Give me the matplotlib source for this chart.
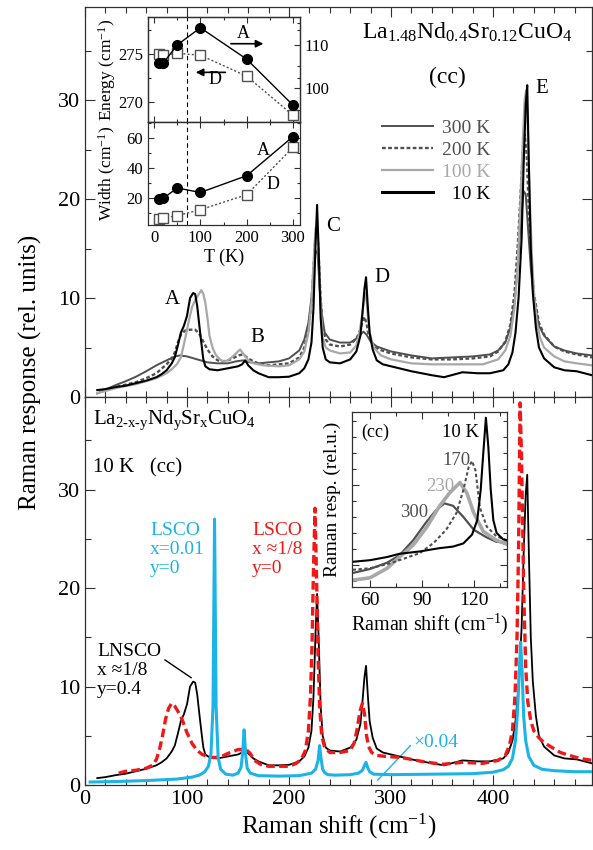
import matplotlib
matplotlib.use("Agg")
import matplotlib.pyplot as plt
from matplotlib.ticker import MultipleLocator
from matplotlib.lines import Line2D

plt.rcParams['font.family'] = ['Liberation Serif', 'DejaVu Serif']
plt.rcParams['mathtext.fontset'] = 'custom'
plt.rcParams['mathtext.rm'] = 'Liberation Serif'
plt.rcParams['mathtext.it'] = 'Liberation Serif:italic'
plt.rcParams['mathtext.bf'] = 'Liberation Serif:bold'

# ---- main spectra (Raman shift in cm-1, response in rel. units) ----
x_10K = [12, 20, 30, 40, 50, 60, 70, 75, 80, 85, 88, 91, 94, 97, 100, 103, 106, 108, 110, 112,
         114, 116, 118, 122, 130, 140, 150, 154, 157, 160, 165, 170, 180, 190, 200, 210, 215, 219,
         222, 224, 226, 227.5, 229, 231, 233, 236, 240, 250, 260, 266, 270, 272, 274, 275.5, 277,
         279, 282, 286, 292, 300, 320, 340, 352, 370, 385, 397, 410, 415, 419, 422, 425, 428, 430,
         432, 433.5, 435, 437, 439, 442, 445, 450, 460, 470, 482, 497]
y_10K = [0.7, 0.8, 1.0, 1.15, 1.4, 1.65, 2.0, 2.3, 2.7, 3.4, 4.0, 5.2, 6.5, 7.2, 8.2, 10.0, 10.5, 10.4,
         9.2, 7.3, 5.5, 3.8, 3.1, 2.8, 2.7, 2.9, 3.1, 3.3, 3.7, 3.2, 2.7, 2.4, 2.0, 2.0, 2.05, 2.4, 2.9,
         3.8, 5.5, 9.0, 15.5, 19.4, 15.0, 8.0, 5.0, 3.8, 3.5, 3.4, 3.8, 4.6, 6.2, 8.5, 11.0, 12.1, 9.5,
         6.5, 4.8, 3.7, 3.3, 3.1, 2.6, 2.2, 2.0, 2.5, 2.4, 2.4, 2.7, 3.3, 4.5, 6.5, 10.0, 16.0, 23.5,
         29.5, 31.5, 24.0, 15.0, 10.5, 7.0, 5.0, 3.9, 3.0, 2.7, 2.6, 2.2]

x_300K = [12, 20, 30, 40, 50, 60, 70, 80, 88, 93, 100, 110, 120, 130, 140, 148, 155, 162, 170, 180,
          190, 200, 210, 215, 219, 222, 224, 226, 228, 230, 232, 235, 240, 250, 260, 266, 270, 273,
          276, 280, 286, 300, 320, 340, 360, 380, 397, 405, 412, 417, 421, 424, 427, 430, 432, 434,
          437, 440, 445, 450, 460, 470, 482, 497]
y_300K = [0.35, 0.75, 1.2, 1.6, 2.05, 2.6, 3.2, 3.7, 4.1, 4.2, 4.1, 3.8, 3.5, 3.4, 3.4, 3.6, 3.7, 3.5,
          3.4, 3.5, 3.6, 3.9, 4.7, 5.8, 7.5, 10.0, 12.5, 14.8, 14.5, 11.0, 8.5, 6.5, 5.8, 5.5, 5.5,
          5.9, 6.3, 6.6, 6.3, 5.6, 5.1, 4.6, 4.2, 3.9, 4.0, 4.1, 4.3, 4.7, 5.5, 7.0, 9.5, 13.0, 17.5,
          20.8, 20.5, 17.5, 13.0, 9.8, 7.2, 6.2, 5.1, 4.7, 4.4, 4.2]

x_200K = [14, 20, 30, 40, 50, 60, 70, 80, 85, 88, 91, 94, 98, 103, 108, 112, 116, 120, 125, 130,
          135, 140, 145, 150, 155, 160, 165, 170, 180, 190, 200, 210, 215, 219, 222, 224, 226, 227.5,
          229, 231, 233, 236, 240, 250, 260, 266, 270, 272, 274, 276, 278, 282, 288, 300, 320, 340,
          360, 380, 397, 405, 412, 417, 421, 424, 427, 429, 431, 433, 435, 437, 440, 445, 450, 460,
          470, 482, 497]
y_200K = [0.5, 0.7, 1.0, 1.25, 1.5, 1.9, 2.4, 3.3, 3.9, 4.5, 5.5, 6.3, 6.7, 6.8, 6.8, 6.4, 5.6, 4.8,
          4.1, 3.7, 3.6, 3.7, 3.9, 4.2, 4.3, 3.9, 3.6, 3.4, 3.2, 3.3, 3.4, 4.0, 5.0, 6.8, 9.5, 13.0,
          16.5, 17.0, 14.5, 10.0, 7.0, 5.8, 5.3, 5.1, 5.3, 5.9, 6.8, 7.6, 8.1, 7.4, 6.3, 5.3, 4.8,
          4.4, 4.0, 3.8, 3.8, 3.9, 4.1, 4.6, 5.6, 7.3, 10.5, 15.0, 20.5, 24.5, 26.5, 24.5, 19.0,
          14.5, 10.5, 7.5, 6.3, 5.1, 4.6, 4.3, 4.0]

x_100K = [12, 20, 30, 40, 50, 60, 70, 80, 85, 90, 94, 98, 102, 105, 108, 111, 114, 116, 118, 120,
          122, 125, 128, 132, 136, 140, 145, 149, 152, 155, 160, 165, 175, 190, 200, 210, 215, 219,
          222, 224, 226, 227.5, 229, 231, 233, 236, 240, 250, 260, 266, 269, 272, 274, 275.5, 277,
          279, 283, 290, 300, 320, 340, 360, 390, 405, 412, 417, 421, 424, 427, 429, 431, 432.5, 434,
          436, 438, 440, 443, 446, 450, 460, 470, 482, 497]
y_100K = [0.4, 0.6, 0.9, 1.1, 1.3, 1.6, 1.9, 2.4, 2.8, 3.3, 4.0, 5.8, 7.8, 9.1, 9.8, 10.3, 10.8, 10.4,
          9.5, 8.0, 6.2, 5.0, 4.3, 3.8, 3.6, 3.7, 4.1, 4.5, 4.8, 4.4, 3.7, 3.4, 3.2, 3.1, 3.2, 3.8,
          4.6, 6.5, 9.5, 13.5, 17.0, 17.5, 14.5, 9.0, 6.0, 5.0, 4.7, 4.4, 4.5, 5.2, 6.5, 8.5, 10.2,
          10.5, 8.5, 6.5, 5.0, 4.2, 3.8, 3.4, 3.3, 3.3, 3.3, 3.8, 4.7, 6.2, 9.0, 13.0, 20.0, 25.5,
          30.0, 31.0, 27.0, 20.0, 14.5, 10.5, 7.5, 6.0, 5.0, 4.1, 3.6, 3.4, 3.2]

# LSCO x~1/8, y=0 (10 K)
x_lsco8 = [33, 40, 50, 60, 66, 70, 73, 76, 79, 82, 85, 88, 91, 95, 100, 105, 110, 115, 120, 125, 132,
           140, 150, 158, 162, 166, 172, 180, 190, 200, 207, 212, 216, 219, 221, 222.5, 224, 225.5,
           227, 228.5, 230, 232, 235, 240, 250, 260, 264, 267, 269.5, 272, 274, 276, 278, 281, 286,
           295, 310, 330, 350, 370, 390, 405, 412, 416, 419, 421.5, 423.5, 425, 426.5, 428, 430,
           432, 434, 437, 440, 445, 450, 458, 466, 475, 485, 497]
y_lsco8 = [1.2, 1.4, 1.5, 1.7, 2.0, 2.6, 3.6, 5.0, 6.7, 7.8, 8.3, 8.0, 7.5, 6.7, 5.3, 4.2, 3.5, 3.1,
           2.9, 2.8, 2.8, 3.2, 3.6, 3.6, 3.2, 2.5, 2.1, 1.9, 1.9, 1.9, 2.2, 2.6, 3.5, 5.5, 9.0, 14.0,
           22.0, 28.1, 21.0, 13.0, 8.0, 5.0, 3.8, 3.3, 3.3, 3.5, 4.3, 5.8, 7.5, 8.3, 7.2, 5.0, 3.9,
           3.3, 3.0, 2.9, 2.8, 2.4, 2.1, 2.3, 2.2, 2.5, 3.0, 4.0, 5.5, 9.0, 15.0, 24.0, 38.8, 33.0,
           20.0, 12.0, 8.5, 6.5, 5.5, 4.8, 4.3, 3.8, 3.3, 3.0, 2.7, 2.5]

# LSCO x=0.01, y=0 (scaled x0.04)
x_lsco01 = [5, 30, 60, 90, 105, 112, 117, 121, 123.5, 125.5, 127, 128.5, 130.5, 133, 138, 145, 150,
            153, 154.5, 156, 157.5, 159, 162, 170, 190, 210, 222, 226, 228.5, 230, 231.5, 233, 235,
            238, 245, 260, 268, 272, 274, 275.5, 277, 279, 283, 300, 340, 380, 400, 410, 415, 419,
            422, 424, 425.5, 427, 428.5, 430, 432, 435, 440, 448, 460, 480, 497]
y_lsco01 = [0.3, 0.35, 0.45, 0.6, 0.8, 1.0, 1.3, 1.9, 3.2, 8.0, 27.0, 8.0, 2.8, 1.6, 1.1, 1.0, 1.2,
            1.8, 3.2, 5.6, 3.0, 1.7, 1.2, 0.95, 0.9, 0.95, 1.2, 1.6, 2.5, 4.0, 2.6, 1.6, 1.25, 1.05,
            1.0, 1.05, 1.2, 1.5, 2.0, 2.3, 1.8, 1.35, 1.1, 1.05, 1.1, 1.15, 1.3, 1.55, 1.9, 2.7, 4.5,
            7.5, 11.0, 14.5, 11.5, 7.0, 4.5, 2.9, 2.0, 1.6, 1.45, 1.35, 1.35]

# ---- inset (top): phonon A and D vs temperature ----
T = [10, 20, 50, 100, 200, 300]
energy_A = [105.8, 105.8, 110.0, 114.0, 106.7, 96.0]
energy_D = [275.0, 274.9, 275.1, 274.9, 272.7, 268.6]
width_A = [19.3, 19.8, 26.7, 23.7, 34.9, 61.0]
width_D = [6.0, 6.7, 8.2, 12.2, 22.2, 53.8]
T_line = 72

# ---- inset (bottom): soft mode of LSCO x=0.01 ----
xi_10 = [50, 60, 70, 77, 89, 100, 108, 114, 119, 122, 124, 125.5, 127, 128.4, 129.8, 131.3, 133.2, 137, 139]
yi_10 = [0.2, 0.3, 0.5, 0.7, 0.85, 1.05, 1.15, 1.35, 1.9, 2.8, 4.7, 7.0, 9.2, 7.4, 4.7, 2.8, 2.0, 1.6, 1.55]
xi_170 = [50, 60, 70, 77, 89, 97, 104, 110, 114, 117, 119, 121, 123.5, 127.5, 133, 139]
yi_170 = [-0.3, -0.2, 0.05, 0.3, 0.75, 1.4, 2.2, 3.25, 4.7, 6.1, 6.5, 5.9, 3.6, 2.4, 1.8, 1.55]
xi_230 = [50, 60, 70, 77, 85, 93, 100, 106, 112, 116, 120, 125.5, 133, 139]
yi_230 = [-0.95, -0.8, -0.2, 0.5, 1.25, 2.4, 3.65, 4.5, 5.15, 4.5, 3.25, 2.1, 1.55, 1.3]
xi_300 = [50, 60, 70, 77, 85, 92, 98, 103, 108, 114, 120, 127, 133, 139]
yi_300 = [-0.5, -0.25, 0.15, 0.6, 1.55, 2.6, 3.4, 3.85, 3.7, 3.0, 2.2, 1.75, 1.45, 1.4]

DARK = '#505050'
LIGHT = '#a8a8a8'
CYAN = '#1cb4e6'
RED = '#f01818'
SPINE = '#303030'
W, H = 593, 850


def frac(x0, y0, x1, y1):
    return [x0 / W, 1 - y1 / H, (x1 - x0) / W, (y1 - y0) / H]


def style(ax, size, major=5, minor=2.5):
    ax.tick_params(which='both', direction='in', top=True, right=True,
                   labelsize=size, color=SPINE, width=0.8)
    ax.tick_params(which='major', length=major)
    ax.tick_params(which='minor', length=minor)
    for s in ax.spines.values():
        s.set_color(SPINE)
        s.set_linewidth(0.9)


fig = plt.figure(figsize=(W / 100, H / 100), dpi=100)
ax1 = fig.add_axes(frac(85, 7, 592, 397))
ax2 = fig.add_axes(frac(85, 397, 592, 785))

for ax in (ax1, ax2):
    ax.set_xlim(0, 497)
    ax.set_ylim(0, 39.4)
    ax.xaxis.set_major_locator(MultipleLocator(100))
    ax.xaxis.set_minor_locator(MultipleLocator(20))
    ax.yaxis.set_major_locator(MultipleLocator(10))
    ax.yaxis.set_minor_locator(MultipleLocator(5))
    style(ax, 16, 7, 4)
ax1.tick_params(labelbottom=False)

# top panel
l300, = ax1.plot(x_300K, y_300K, color=DARK, lw=1.4)
l200, = ax1.plot(x_200K, y_200K, color=DARK, lw=1.7, ls=(0, (1.6, 1.0)))
l100, = ax1.plot(x_100K, y_100K, color=LIGHT, lw=1.6)
l10, = ax1.plot(x_10K, y_10K, color='black', lw=1.5)

leg = ax1.legend([Line2D([], [], color=DARK, lw=1.4),
                  Line2D([], [], color=DARK, lw=1.7, ls=(0, (1.6, 1.0))),
                  Line2D([], [], color=LIGHT, lw=1.6),
                  Line2D([], [], color='black', lw=2.2)],
                 ['300 K', '200 K', '100 K', '  10 K'],
                 loc='upper left', bbox_to_anchor=(0.586, 0.712), frameon=False,
                 fontsize=14, handlelength=2.6, handletextpad=0.5, labelspacing=0.22,
                 borderpad=0, borderaxespad=0)
for t, c in zip(leg.get_texts(), [DARK, DARK, LIGHT, 'black']):
    t.set_color(c)

ax1.text(375, 36.8, 'La$_{1.48}$Nd$_{0.4}$Sr$_{0.12}$CuO$_4$', fontsize=17, ha='center', va='center')
ax1.text(355, 32.3, '(cc)', fontsize=17, ha='center', va='center')
for lab, px, py in [('A', 86, 9.8), ('B', 168.6, 6.0), ('C', 243, 17.2), ('D', 291, 12.1), ('E', 447.7, 31.2)]:
    ax1.text(px, py, lab, fontsize=15, ha='center', va='center')

# bottom panel
ax2.plot(x_10K, y_10K, color='black', lw=1.3, zorder=3)
ax2.plot(x_lsco8, y_lsco8, color=RED, lw=2.4, ls=(0, (2.6, 1.3)), zorder=4)
ax2.plot(x_lsco01, y_lsco01, color=CYAN, lw=2.2, zorder=5)

ax2.text(7.8, 37.0, 'La$_{\\mathrm{2\u2010x\u2010y}}$Nd$_{\\mathrm{y}}$Sr$_{\\mathrm{x}}$CuO$_4$',
         fontsize=15, ha='left', va='center')
ax2.text(7.8, 32.2, '10 K   (cc)', fontsize=15, ha='left', va='center')
ax2.text(63.7, 26.7, 'LSCO\nx=0.01\ny=0', color=CYAN, fontsize=14, ha='left', va='top', linespacing=1.15)
ax2.text(163.7, 26.7, 'LSCO\nx \u22481/8\ny=0', color=RED, fontsize=14, ha='left', va='top', linespacing=1.15)
ax2.text(11.8, 14.4, 'LNSCO\nx \u22481/8\ny=0.4', color='black', fontsize=14, ha='left', va='top', linespacing=1.15)
ax2.plot([78.4, 104], [12.7, 10.9], color='black', lw=1)
ax2.plot([287, 319], [0.5, 4.0], color=CYAN, lw=1)
ax2.text(321.5, 4.3, '\u00d70.04', color=CYAN, fontsize=14, ha='left', va='center')

ax2.set_xlabel('Raman shift (cm$^{-1}$)', fontsize=18, labelpad=2)
fig.text(30 / W, 1 - 372 / H, 'Raman response (rel. units)', rotation=90,
         fontsize=18, ha='center', va='center')

# top inset
axE = fig.add_axes(frac(148, 17, 300, 122))
axW = fig.add_axes(frac(148, 122, 300, 225))
axE2 = axE.twinx()
for ax in (axE, axW):
    ax.set_xlim(-13, 315)
    ax.xaxis.set_major_locator(MultipleLocator(100))
    ax.xaxis.set_minor_locator(MultipleLocator(50))
    style(ax, 12, 4, 2.5)
    ax.axvline(T_line, color='black', lw=0.8, ls=(0, (4, 3)))
style(axE2, 12, 4, 2.5)
axE.tick_params(labelbottom=False, right=False)
axE2.tick_params(which='both', left=False, right=True, labelright=True)
axE.set_ylim(267.9, 278.9)
axE.yaxis.set_major_locator(MultipleLocator(5))
axE.yaxis.set_minor_locator(MultipleLocator(2.5))
axE2.set_ylim(92.1, 116.5)
axE2.yaxis.set_major_locator(MultipleLocator(10))
axE2.yaxis.set_minor_locator(MultipleLocator(5))
axW.set_ylim(2, 70.7)
axW.yaxis.set_major_locator(MultipleLocator(20))
axW.yaxis.set_minor_locator(MultipleLocator(10))

axE.plot(T, energy_D, color=DARK, lw=1, ls=(0, (1.5, 1.5)), marker='s', ms=7,
         mfc='white', mec=DARK, mew=1)
axE2.plot(T, energy_A, color='black', lw=1, marker='o', ms=7)
axW.plot(T, width_D, color=DARK, lw=1, ls=(0, (1.5, 1.5)), marker='s', ms=7,
         mfc='white', mec=DARK, mew=1)
axW.plot(T, width_A, color='black', lw=1, marker='o', ms=7)

axE.text(192, 277.2, 'A', fontsize=13, ha='center', va='center')
axE.annotate('', xy=(242, 276.1), xytext=(160, 276.1),
             arrowprops=dict(arrowstyle='-|>', color='black', lw=1.2, mutation_scale=11))
axE.text(132, 272.3, 'D', fontsize=13, ha='center', va='center')
axE.annotate('', xy=(84, 273.1), xytext=(160, 273.1),
             arrowprops=dict(arrowstyle='-|>', color='black', lw=1.2, mutation_scale=11))
axW.text(235, 52, 'A', fontsize=13, ha='center', va='center')
axW.text(257, 28.7, 'D', fontsize=13, ha='center', va='center')

axE.set_ylabel('Energy (cm$^{-1}$)', fontsize=12.5)
axW.set_ylabel('Width (cm$^{-1}$)', fontsize=12.5)
axE.yaxis.set_label_coords(-0.2, 0.5)
axW.yaxis.set_label_coords(-0.2, 0.5)
axW.set_xlabel('T (K)', fontsize=13, labelpad=2)

# bottom inset
axI = fig.add_axes(frac(352, 412, 507, 587))
axI.set_xlim(49.6, 139.2)
axI.set_ylim(-1.375, 9.56)
axI.xaxis.set_major_locator(MultipleLocator(30))
axI.xaxis.set_minor_locator(MultipleLocator(15))
axI.yaxis.set_major_locator(MultipleLocator(5))
axI.yaxis.set_minor_locator(MultipleLocator(1))
style(axI, 14, 5, 3)
axI.tick_params(labelleft=False)
axI.plot(xi_300, yi_300, color=DARK, lw=1.6)
axI.plot(xi_230, yi_230, color=LIGHT, lw=2.6)
axI.plot(xi_170, yi_170, color=DARK, lw=1.5, ls=(0, (1.6, 1.2)))
axI.plot(xi_10, yi_10, color='black', lw=1.5)
axI.text(62.9, 8.3, '(cc)', fontsize=13, ha='center', va='center')
axI.text(101.6, 8.25, '10 K', fontsize=13.5, ha='left', va='center')
axI.text(101.6, 6.56, '170', fontsize=13.5, color=DARK, ha='left', va='center')
axI.text(92.4, 4.9, '230', fontsize=13.5, color=LIGHT, ha='left', va='center')
axI.text(77.3, 3.25, '300', fontsize=13.5, color=DARK, ha='left', va='center')
axI.set_xlabel('Raman shift (cm$^{-1}$)', fontsize=14.5, labelpad=2)
axI.set_ylabel('Raman resp. (rel.u.)', fontsize=14)
axI.yaxis.set_label_coords(-0.07, 0.5)

fig.savefig('out.png', dpi=100)
